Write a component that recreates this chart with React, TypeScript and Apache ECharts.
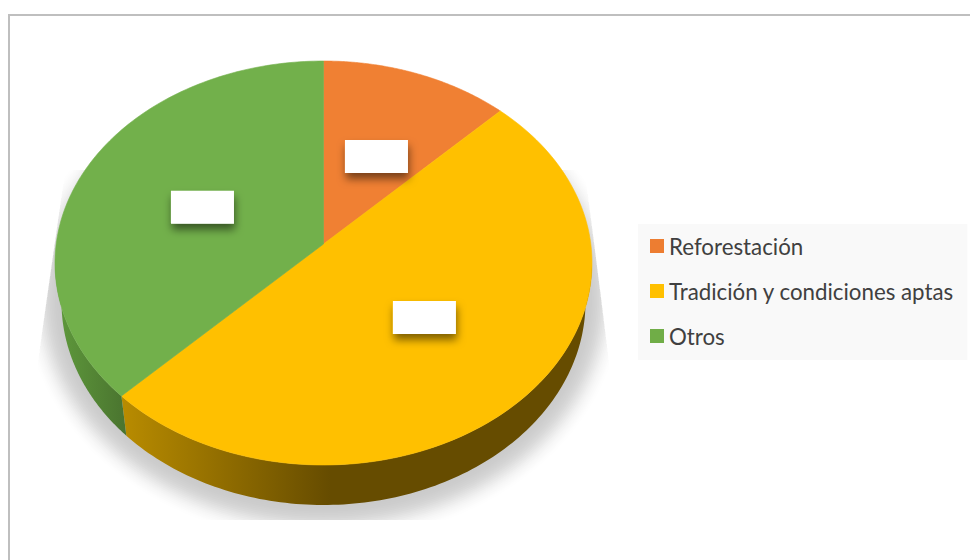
import React, { useEffect, useRef } from "react";
import * as echarts from "echarts";

const categories = ["Reforestación", "Tradición y condiciones aptas", "Otros"];
const shares = [12.5, 50, 37.5];
const faceColors = ["#F08033", "#FFC000", "#72B04B"];
const legendColors = ["#ED7D31", "#FFC000", "#70AD47"];
const labelNudges = [[1.6, 5.8], [6, 2], [3, 2]];

const CX = 323.5, CY = 263, RX = 268.5, RY = 202;
const APEX_Y = 244;
const BOTTOM_CY = 302, BOTTOM_RX = 262, BOTTOM_RY = 203;
const TOTAL = shares.reduce((a, b) => a + b, 0);
const startAngle = (i: number) =>
  (shares.slice(0, i).reduce((a, b) => a + b, 0) / TOTAL) * Math.PI * 2;

// Rim point of the tilted disc for a clockwise-from-top pie angle, as an ellipse parameter.
function rimParam(theta: number) {
  const dx = Math.sin(theta);
  const dy = -Math.cos(theta);
  const off = (APEX_Y - CY) / RY;
  const b = off * dy;
  const s = -b + Math.sqrt(b * b - (off * off - 1));
  return Math.atan2(off + s * dy, s * dx);
}
const top = (t: number): number[] => [CX + RX * Math.cos(t), CY + RY * Math.sin(t)];
const low = (t: number): number[] => [CX + BOTTOM_RX * Math.cos(t), BOTTOM_CY + BOTTOM_RY * Math.sin(t)];

function sweep(a: number, b: number, n = 90) {
  const out: number[] = [];
  for (let i = 0; i <= n; i++) out.push(a + ((b - a) * i) / n);
  return out;
}

function facePoints(i: number) {
  const a = startAngle(i);
  const b = startAngle(i + 1);
  const pts: number[][] = [[CX, APEX_Y]];
  sweep(a, b, 120).forEach((th) => pts.push(top(rimParam(th))));
  return pts;
}

// Visible wall: the part of the slice's rim on the lower half of the ellipse.
function wallPoints(i: number) {
  const ts = sweep(startAngle(i), startAngle(i + 1), 160)
    .map(rimParam)
    .filter((t) => t >= 0 && t <= Math.PI);
  if (ts.length < 2) return null;
  const first = ts[0];
  const last = ts[ts.length - 1];
  const lo = Math.min(first, last), hi = Math.max(first, last);
  const range = sweep(i === 1 ? 0 : lo, i === 2 ? Math.PI : hi, 120);
  return { pts: [...range.map(top), ...range.slice().reverse().map(low)] };
}

const wallFills: Record<number, any> = {
  1: {
    type: "linear", x: 121, y: 0, x2: 330, y2: 0, global: true,
    colorStops: [
      { offset: 0, color: "#B98C00" },
      { offset: 1, color: "#664C00" },
    ],
  },
  2: {
    type: "linear", x: 55, y: 0, x2: 126, y2: 0, global: true,
    colorStops: [
      { offset: 0, color: "#5F9A3C" },
      { offset: 1, color: "#4A742F" },
    ],
  },
};

function sliceRender(i: number) {
  return () => {
    const children: any[] = [];
    const wall = wallPoints(i);
    if (wall) {
      children.push({
        type: "polygon",
        shape: { points: wall.pts },
        style: { fill: wallFills[i] || "#8F4A1C" },
      });
    }
    children.push({
      type: "polygon",
      shape: { points: facePoints(i) },
      style: { fill: faceColors[i], stroke: faceColors[i], lineWidth: 0.6 },
    });
    return { type: "group", children };
  };
}

function labelRender(i: number) {
  return () => {
    const mid = (startAngle(i) + startAngle(i + 1)) / 2;
    const cx = CX + 0.5 * RX * Math.sin(mid) + labelNudges[i][0];
    const cy = APEX_Y - 0.5 * RY * Math.cos(mid) + labelNudges[i][1];
    return {
      type: "rect",
      shape: { x: cx - 31.5, y: cy - 16.5, width: 63, height: 33 },
      style: {
        fill: "#FFFFFF",
        shadowBlur: 8,
        shadowColor: "rgba(0,0,0,0.5)",
        shadowOffsetX: 1,
        shadowOffsetY: 6,
      },
    };
  };
}

// Soft cast shadow: nested translucent ellipses, clipped to the hard-edged shadow plane.
function shadowRender() {
  const LAYERS = 26, FADE = 44, DEPTH = 0.2;
  const weights = Array.from({ length: LAYERS }, (_, k) => Math.sin((Math.PI * (k + 0.5)) / LAYERS) ** 2);
  const sum = weights.reduce((a, b) => a + b, 0);
  const children = weights.map((w, k) => {
    const d = (FADE * k) / (LAYERS - 1);
    return {
      type: "polygon",
      shape: {
        points: sweep(0, Math.PI * 2, 120).map((t) => [
          CX + (260 + d) * Math.cos(t),
          298 + (205 + d) * Math.sin(t),
        ]),
      },
      style: { fill: `rgba(0,0,0,${((DEPTH * w) / sum).toFixed(4)})` },
    };
  });
  return {
    type: "group",
    children,
    clipPath: {
      type: "polygon",
      shape: {
        points: [[65, 170], [585, 170], [609, 360], [609, 520], [38, 520], [38, 360]],
      },
    },
  };
}

export default function App() {
  const ref = useRef<HTMLDivElement>(null);
  useEffect(() => {
    const chart = echarts.init(ref.current!, null, { renderer: "svg" });
    const slices = categories.map((name, i) => ({
      type: "custom",
      name,
      coordinateSystem: "none",
      silent: true,
      z: 3,
      itemStyle: { color: faceColors[i] },
      data: [shares[i]],
      renderItem: sliceRender(i),
    }));
    const labels = categories.map((name, i) => ({
      type: "custom",
      name: name + " etiqueta",
      coordinateSystem: "none",
      silent: true,
      z: 4,
      data: [shares[i]],
      renderItem: labelRender(i),
    }));
    chart.setOption({
      animation: false,
      backgroundColor: "#FFFFFF",
      graphic: [
        {
          type: "polyline",
          z: 0,
          shape: { points: [[9, 560], [9, 15], [970, 15]] },
          style: { stroke: "#BFBFBF", lineWidth: 2, fill: "none" },
        },
      ],
      legend: {
        orient: "vertical",
        left: 638,
        top: 224,
        padding: [11, 13, 13, 12],
        backgroundColor: "#F9F9F9",
        itemWidth: 14,
        itemHeight: 14,
        itemGap: 23,
        icon: "rect",
        selectedMode: false,
        textStyle: { fontFamily: "Lato", fontSize: 22.3, color: "#404040" },
        data: categories.map((name, i) => ({ name, itemStyle: { color: legendColors[i] } })),
      },
      series: [
        {
          type: "custom",
          name: "sombra",
          coordinateSystem: "none",
          silent: true,
          z: 1,
          data: [0],
          renderItem: shadowRender,
        },
        ...slices,
        ...labels,
      ],
    });
    return () => chart.dispose();
  }, []);
  return <div ref={ref} style={{ position: "fixed", left: 0, top: 0, width: 970, height: 560 }} />;
}
